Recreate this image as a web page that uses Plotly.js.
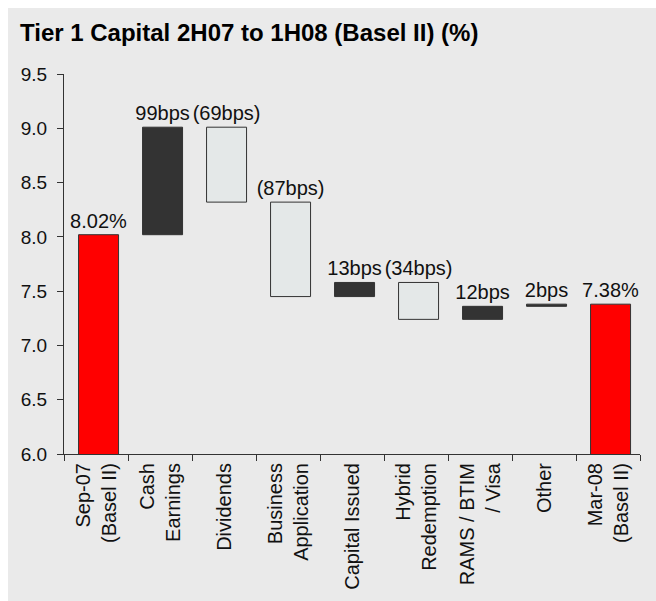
<!DOCTYPE html>
<html>
<head>
<meta charset="utf-8">
<script src="https://cdn.plot.ly/plotly-3.0.1.min.js"></script>
<style>
  html, body { margin: 0; padding: 0; background: #ffffff; }
  #chart { position: absolute; left: 8px; top: 8px; width: 648px; height: 593px; }
</style>
</head>
<body>
<div id="chart"></div>
<script>
// Tier 1 capital bridge, Sep-07 to Mar-08 (Basel II)
const categories = [
  "Sep-07<br>(Basel II)",
  "Cash<br>Earnings",
  "Dividends",
  "Business<br>Application",
  "Capital Issued",
  "Hybrid<br>Redemption",
  "RAMS / BTIM<br>/ Visa",
  "Other",
  "Mar-08<br>(Basel II)"
];
const openingRatio = 8.02;   // %
const closingRatio = 7.38;   // %
const movementsBps = [99, -69, -87, 13, -34, 12, 2];

const RED = "#ff0000";
const DARK = "#333333";
const LIGHT = "#e4e8e8";

// Build floating bars: totals start at zero, movements float on the running level
const bases = [], heights = [], labels = [], colors = [];
bases.push(0); heights.push(openingRatio);
labels.push(openingRatio.toFixed(2) + "%"); colors.push(RED);
let level = openingRatio;
movementsBps.forEach(function (bps) {
  const next = level + bps / 100;
  bases.push(Math.min(level, next));
  heights.push(Math.abs(bps) / 100);
  labels.push(bps >= 0 ? bps + "bps" : "(" + Math.abs(bps) + "bps)");
  colors.push(bps >= 0 ? DARK : LIGHT);
  level = next;
});
bases.push(0); heights.push(closingRatio);
labels.push(closingRatio.toFixed(2) + "%"); colors.push(RED);

const BAR_WIDTH = 0.625;

const trace = {
  type: "bar",
  x: categories,
  y: heights,
  base: bases,
  width: BAR_WIDTH,
  offset: -BAR_WIDTH / 2 + 0.04,
  marker: { color: colors, line: { color: "#333333", width: 1 } },
  text: labels,
  textposition: "outside",
  textfont: { family: "Liberation Sans, Arial, sans-serif", size: 20, color: "#111111" },
  constraintext: "none",
  cliponaxis: false,
  hoverinfo: "skip"
};

const layout = {
  width: 648,
  height: 593,
  paper_bgcolor: "#eaeaea",
  plot_bgcolor: "#eaeaea",
  margin: { l: 56, r: 16, t: 66, b: 147 },
  showlegend: false,
  font: { family: "Liberation Sans, Arial, sans-serif", size: 19, color: "#111111" },
  title: {
    text: "<b>Tier 1 Capital 2H07 to 1H08 (Basel II) (%)</b>",
    font: { family: "Liberation Sans, Arial, sans-serif", size: 24, color: "#000000" },
    xref: "container", x: 12 / 648, xanchor: "left",
    yref: "container", y: 1 - 16 / 593, yanchor: "top"
  },
  xaxis: {
    type: "category",
    range: [-0.5, 8.5],
    showline: true, linecolor: "#333333", linewidth: 1,
    ticks: "outside", tickson: "boundaries", ticklen: 6, tickcolor: "#333333",
    tickangle: -90,
    tickfont: { size: 20 },
    showgrid: false, zeroline: false, fixedrange: true
  },
  yaxis: {
    range: [6, 9.5],
    dtick: 0.5,
    tickformat: ".1f",
    showline: true, linecolor: "#333333", linewidth: 1,
    ticks: "outside", ticklen: 6, tickcolor: "#333333",
    ticklabelstandoff: 6,
    tickfont: { size: 19 },
    showgrid: false, zeroline: false, fixedrange: true
  },
  bargap: 0
};

Plotly.newPlot("chart", [trace], layout, { displayModeBar: false, staticPlot: true });
</script>
</body>
</html>
